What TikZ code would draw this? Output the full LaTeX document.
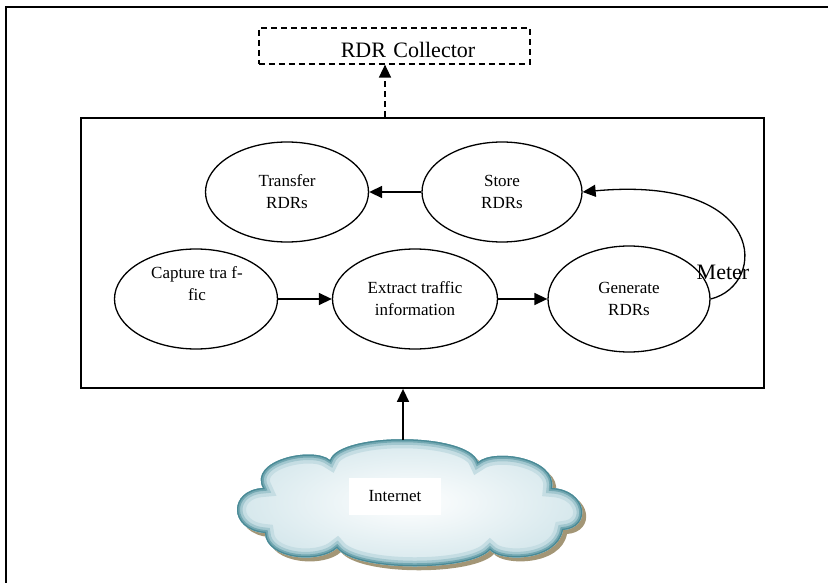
\documentclass[tikz,border=0pt]{standalone}
\usepackage{fontspec}
\setmainfont{Liberation Serif}
\usetikzlibrary{arrows.meta,shapes.geometric}
\definecolor{cloudrim}{HTML}{4A8A96}
\definecolor{cloudmid}{HTML}{8DBAC3}
\definecolor{cloudlight}{HTML}{D3E6EB}
\definecolor{cloudshadow}{HTML}{A39676}
% outline of the Internet cloud
\newcommand\cloudoutline{%
  (330,460) .. controls (340,432) and (468,432) .. (478,462)
  .. controls (495,448) and (557,458) .. (552,488)
  .. controls (588,490) and (592,528) .. (563,530)
  .. controls (557,562) and (500,562) .. (490,550)
  .. controls (470,572) and (355,572) .. (337,548)
  .. controls (320,564) and (266,560) .. (265,533)
  .. controls (228,530) and (228,490) .. (263,488)
  .. controls (248,460) and (313,446) .. (330,460) -- cycle}
\tikzset{
  px/.style={x=1pt,y=-1pt},
  frame/.style={line width=1.8pt},
  meterbox/.style={draw,line width=1.9pt},
  process/.style={draw,ellipse,line width=1.3pt,inner sep=0pt,
    font=\fontsize{17}{22}\selectfont,align=center},
  arr/.style={line width=1.5pt,-{Triangle[length=13pt,width=12pt]}},
  bigtext/.style={font=\fontsize{22}{24}\selectfont,inner sep=0pt},
}
\begin{document}
\begin{tikzpicture}[px]
\useasboundingbox (0,0) rectangle (828,583);
% page frame (only its left and top edges fall inside the page)
\draw[frame] (6,590) -- (6,7) -- (835,7);

% the meter
\node[meterbox,minimum width=683pt,minimum height=270pt,anchor=north west] (meter) at (80,117) {};
\node[bigtext] (metertext) at (723,272) {Meter};

% collector
\node[draw,dashed,line width=1.6pt,dash pattern=on 6pt off 4pt,
      minimum width=271pt,minimum height=36pt,anchor=north west] (coll) at (258,27) {};
\node[bigtext] (colltext) at (408,50) {RDR\,\,Collector};

% processing steps
\node[process,minimum width=163pt,minimum height=100pt] (transfer) at (287,192) {Transfer\\RDRs};
\node[process,minimum width=160pt,minimum height=100pt] (store) at (502,192) {Store\\RDRs};
\node[process,minimum width=163pt,minimum height=100pt] (capture) at (196,299) {};
\node[font=\fontsize{17}{22}\selectfont,align=center] (capturetext) at (197,284) {Capture tra f-\\fic};
\node[process,minimum width=165pt,minimum height=100pt] (extract) at (415,299) {Extract traffic\\information};
\node[process,minimum width=162pt,minimum height=106pt] (generate) at (629,299) {Generate\\RDRs};

\draw[arr] (store.west) -- (transfer.east);
\draw[arr] (capture.east) -- (extract.west);
\draw[arr] (extract.east) -- (generate.west);
\draw[arr,line width=1.3pt] (generate.east) .. controls (768,285) and (768,175) .. (store.east);

% uplink to the collector
\coordinate (meterup) at (385,117);
\draw[arr,dashed,dash pattern=on 6pt off 4pt] (meterup) -- (coll.south -| meterup);

% the Internet: shadow, pale body, bevelled teal rim
\begin{scope}[shift={(4,4)}]
  \fill[cloudshadow] \cloudoutline;
\end{scope}
\shade[inner color=white,outer color=cloudlight] \cloudoutline;
\begin{scope}
  \clip \cloudoutline;
  \draw[line width=18pt,cloudlight!80!cloudmid] \cloudoutline;
  \draw[line width=11pt,cloudmid!70!cloudlight] \cloudoutline;
  \draw[line width=6pt,cloudmid!60!cloudrim] \cloudoutline;
  \draw[line width=2.5pt,cloudrim] \cloudoutline;
\end{scope}
\node[fill=white,minimum width=92pt,minimum height=37pt,font=\fontsize{17}{20}\selectfont] (inet) at (395,496) {Internet};
\coordinate (cloudtop) at (403,440);
\draw[arr] (cloudtop) -- (cloudtop |- meter.south);
\end{tikzpicture}
\end{document}
